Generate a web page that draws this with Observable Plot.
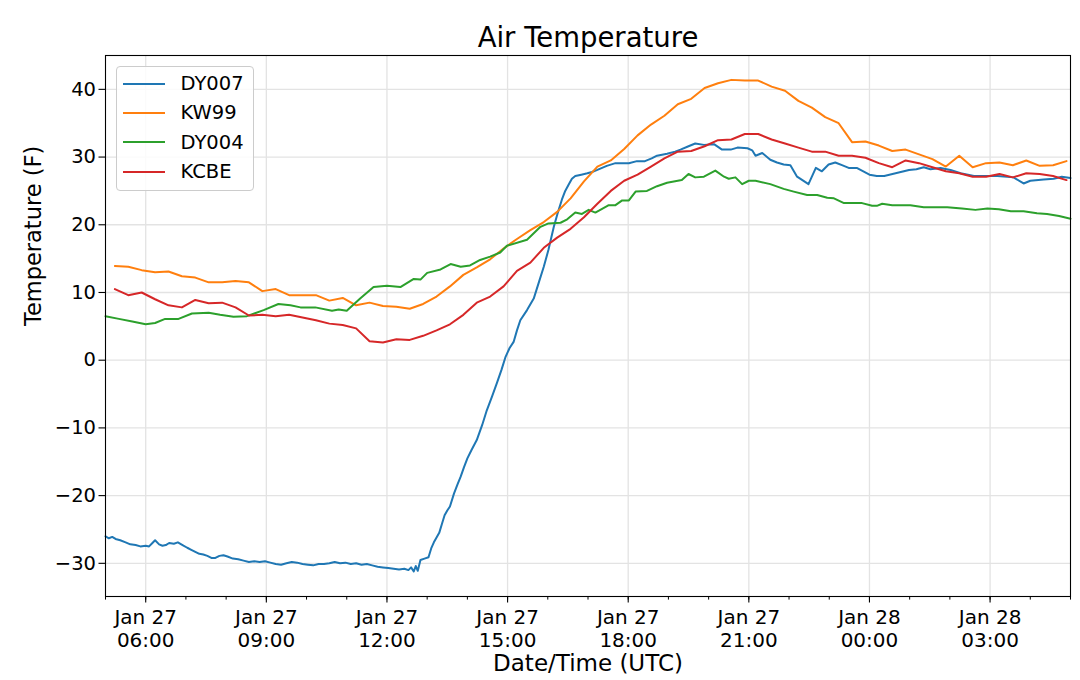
<!DOCTYPE html>
<html><head><meta charset="utf-8">
<script src="https://cdn.jsdelivr.net/npm/d3@7"></script>
<script src="https://cdn.jsdelivr.net/npm/@observablehq/plot@0.6"></script>
<style>
body{margin:0;background:#fff;font-family:"DejaVu Sans",sans-serif;}
#wrap{position:relative;width:1080px;height:680px;}
#legend{position:absolute;left:115.5px;top:66px;width:138px;box-sizing:border-box;padding:2px 0 4px 0;border:1px solid #cccccc;border-radius:4px;background:rgba(255,255,255,0.85);font-family:"DejaVu Sans",sans-serif;font-size:19.5px;color:#000;}
#legend .row{display:flex;align-items:center;height:29.3px;}
#legend .sw{width:42px;height:2px;margin-left:6px;margin-right:16px;}
</style></head><body><div id="wrap"></div>
<script>
const seriesNames = ["DY007", "KW99", "DY004", "KCBE"];
const seriesColors = ["#1f77b4", "#ff7f0e", "#2ca02c", "#d62728"];
const yTicks = [-30, -20, -10, 0, 10, 20, 30, 40];
const xTicks = ["27T06:00", "27T09:00", "27T12:00", "27T15:00", "27T18:00", "27T21:00", "28T00:00", "28T03:00"];
const xDomain = ["27T05:00", "28T05:00"];

const dy007Times = ["27T05:00","27T05:05","27T05:10","27T05:15","27T05:22","27T05:30","27T05:37","27T05:45","27T05:52","27T06:00","27T06:05","27T06:10","27T06:14","27T06:20","27T06:25","27T06:30","27T06:35","27T06:42","27T06:48","27T06:55","27T07:02","27T07:08","27T07:14","27T07:20","27T07:26","27T07:32","27T07:38","27T07:44","27T07:50","27T07:56","27T08:02","27T08:10","27T08:18","27T08:26","27T08:34","27T08:42","27T08:50","27T08:58","27T09:06","27T09:14","27T09:22","27T09:30","27T09:38","27T09:46","27T09:54","27T10:02","27T10:10","27T10:18","27T10:26","27T10:34","27T10:42","27T10:50","27T10:58","27T11:06","27T11:14","27T11:22","27T11:30","27T11:38","27T11:46","27T11:54","27T12:02","27T12:10","27T12:18","27T12:26","27T12:32","27T12:36","27T12:40","27T12:43","27T12:46","27T12:50","27T12:56","27T13:02","27T13:06","27T13:10","27T13:14","27T13:18","27T13:22","27T13:26","27T13:30","27T13:34","27T13:40","27T13:45","27T13:50","27T13:55","27T14:00","27T14:06","27T14:14","27T14:22","27T14:29","27T14:37","27T14:44","27T14:51","27T14:57","27T15:03","27T15:09","27T15:14","27T15:19","27T15:29","27T15:39","27T15:47","27T15:54","27T16:01","27T16:09","27T16:15","27T16:21","27T16:26","27T16:31","27T16:36","27T16:41","27T16:50","27T16:59","27T17:06","27T17:14","27T17:21","27T17:28","27T17:41","27T18:01","27T18:13","27T18:25","27T18:35","27T18:43","27T18:58","27T19:10","27T19:18","27T19:30","27T19:40","27T19:53","27T20:08","27T20:20","27T20:33","27T20:43","27T20:58","27T21:05","27T21:10","27T21:20","27T21:32","27T21:42","27T21:52","27T22:02","27T22:12","27T22:29","27T22:40","27T22:49","27T22:59","27T23:09","27T23:19","27T23:29","27T23:41","28T00:00","28T00:11","28T00:22","28T00:39","28T00:59","28T01:10","28T01:21","28T01:31","28T01:46","28T02:01","28T02:16","28T02:36","28T03:11","28T03:35","28T03:50","28T04:00","28T04:20","28T04:35","28T04:47","28T05:00"];
const dy007Temps = [-26.0,-26.3,-26.1,-26.4,-26.6,-26.9,-27.2,-27.3,-27.5,-27.4,-27.5,-27.0,-26.6,-27.2,-27.4,-27.3,-27.0,-27.1,-26.9,-27.3,-27.7,-28.0,-28.3,-28.6,-28.7,-28.9,-29.2,-29.2,-28.9,-28.8,-29.0,-29.3,-29.4,-29.6,-29.8,-29.7,-29.8,-29.7,-29.9,-30.1,-30.2,-30.0,-29.8,-29.9,-30.1,-30.2,-30.3,-30.1,-30.1,-30.0,-29.8,-30.0,-29.9,-30.1,-30.0,-30.2,-30.1,-30.3,-30.5,-30.6,-30.7,-30.8,-30.9,-30.8,-31.0,-30.6,-31.2,-30.4,-31.1,-29.5,-29.3,-29.1,-27.8,-26.9,-26.2,-25.5,-24.2,-22.9,-22.2,-21.6,-19.7,-18.4,-17.2,-15.8,-14.5,-13.3,-11.8,-9.6,-7.4,-5.3,-3.4,-1.4,0.5,1.8,2.7,4.4,5.9,7.4,9.1,11.6,13.8,16.3,19.7,21.8,23.7,25.0,25.9,26.8,27.2,27.4,27.6,27.8,28.1,28.4,28.7,29.1,29.1,29.4,29.4,29.8,30.2,30.5,30.8,31.1,31.6,32.0,31.8,31.9,31.1,31.1,31.4,31.3,31.0,30.2,30.6,29.6,29.2,28.9,28.8,27.1,26.0,28.4,27.9,28.9,29.2,28.8,28.4,28.4,27.4,27.2,27.2,27.6,28.1,28.2,28.5,28.2,28.4,28.1,27.6,27.2,27.2,27.0,26.1,26.5,26.7,26.8,27.1,26.9];

const dy004Times = ["27T05:00","27T05:20","27T05:40","27T06:00","27T06:14","27T06:29","27T06:49","27T07:09","27T07:34","27T07:51","27T08:11","27T08:31","27T08:56","27T09:18","27T09:36","27T09:51","27T10:13","27T10:38","27T10:48","27T11:00","27T11:20","27T11:40","27T12:00","27T12:20","27T12:40","27T12:50","27T13:00","27T13:20","27T13:35","27T13:50","27T14:04","27T14:19","27T14:34","27T14:49","27T14:59","27T15:29","27T15:49","27T16:01","27T16:19","27T16:29","27T16:41","27T16:51","27T17:01","27T17:11","27T17:31","27T17:41","27T17:51","27T18:01","27T18:11","27T18:28","27T18:43","27T18:58","27T19:20","27T19:30","27T19:40","27T19:53","27T20:10","27T20:23","27T20:30","27T20:40","27T20:50","27T21:00","27T21:10","27T21:32","27T21:52","27T22:07","27T22:27","27T22:42","27T22:57","27T23:07","27T23:22","27T23:49","28T00:04","28T00:11","28T00:19","28T00:34","28T01:01","28T01:21","28T01:56","28T02:18","28T02:38","28T02:56","28T03:13","28T03:31","28T03:50","28T04:10","28T04:25","28T04:43","28T05:00"];
const dy004Temps = [6.5,6.1,5.7,5.3,5.5,6.1,6.1,6.9,7.0,6.7,6.4,6.5,7.4,8.3,8.1,7.8,7.8,7.3,7.5,7.3,9.1,10.8,11.0,10.8,12.0,11.9,12.9,13.4,14.2,13.8,14.0,14.8,15.3,15.9,16.9,17.8,19.7,20.2,20.3,20.8,21.8,21.6,22.2,21.8,22.9,22.9,23.6,23.6,24.9,25.0,25.7,26.2,26.6,27.5,27.0,27.1,28.0,27.1,26.8,27.0,26.0,26.5,26.5,26.0,25.3,24.9,24.4,24.4,24.0,23.9,23.2,23.2,22.8,22.8,23.1,22.9,22.9,22.6,22.6,22.4,22.2,22.4,22.3,22.0,22.0,21.7,21.6,21.3,20.9];

// KW99 and KCBE report every 20 minutes starting 05:14
const awosStart = "27T05:14";
const awosStepMinutes = 20;
const kw99Temps = [13.9,13.8,13.3,13.0,13.1,12.4,12.2,11.5,11.5,11.7,11.5,10.2,10.5,9.6,9.6,9.6,8.8,9.2,8.1,8.5,8.0,7.9,7.6,8.3,9.4,10.9,12.6,13.7,14.9,16.5,17.9,19.2,20.4,21.9,23.9,26.4,28.6,29.5,31.2,33.2,34.8,36.1,37.8,38.6,40.2,40.9,41.4,41.3,41.3,40.4,39.8,38.3,37.3,35.9,35.0,32.2,32.3,31.7,30.9,31.1,30.4,29.7,28.6,30.2,28.5,29.1,29.2,28.8,29.5,28.7,28.8,29.4];
const kcbeTemps = [10.5,9.6,10.0,9.0,8.1,7.8,8.9,8.4,8.5,7.8,6.6,6.7,6.5,6.7,6.3,5.9,5.4,5.2,4.7,2.8,2.6,3.1,3.0,3.6,4.4,5.3,6.7,8.5,9.4,10.9,13.2,14.4,16.6,18.1,19.4,21.1,23.1,25.0,26.5,27.4,28.6,29.8,30.8,30.9,31.6,32.5,32.6,33.4,33.4,32.6,32.0,31.4,30.8,30.8,30.2,30.2,29.9,29.1,28.5,29.5,29.1,28.5,27.9,27.6,27.1,27.1,27.5,27.0,27.6,27.5,27.2,26.6];

const parseT = s => new Date(Date.UTC(2019, 0, +s.slice(0, 2), +s.slice(3, 5), +s.slice(6, 8)));

const rows = [];
dy007Times.forEach((t, i) => rows.push({series: "DY007", time: parseT(t), temp: dy007Temps[i]}));
kw99Temps.forEach((v, i) => rows.push({series: "KW99", time: d3.utcMinute.offset(parseT(awosStart), i * awosStepMinutes), temp: v}));
dy004Times.forEach((t, i) => rows.push({series: "DY004", time: parseT(t), temp: dy004Temps[i]}));
kcbeTemps.forEach((v, i) => rows.push({series: "KCBE", time: d3.utcMinute.offset(parseT(awosStart), i * awosStepMinutes), temp: v}));

const xMajor = xTicks.map(parseT);
const xMinor = d3.utcHour.range(parseT(xDomain[0]), d3.utcMinute.offset(parseT(xDomain[1]), 1));
const fmtX = d3.utcFormat("%b %d\n%H:%M");
const fmtY = d3.format("d");
const FONT = "DejaVu Sans";

const chart = Plot.plot({
  width: 1080, height: 680,
  marginLeft: 105, marginRight: 10, marginTop: 55, marginBottom: 84,
  style: {background: "white", color: "black", fontFamily: FONT},
  x: {type: "utc", domain: xDomain.map(parseT)},
  y: {domain: [-34.9, 45]},
  color: {domain: seriesNames, range: seriesColors},
  marks: [
    Plot.gridX({ticks: xMajor, stroke: "#e3e3e3", strokeOpacity: 1, strokeWidth: 1.3}),
    Plot.gridY({ticks: yTicks, stroke: "#e3e3e3", strokeOpacity: 1, strokeWidth: 1.3}),
    ...seriesNames.map(s => Plot.line(rows.filter(r => r.series === s), {x: "time", y: "temp", stroke: "series", strokeWidth: 2, strokeLinejoin: "round"})),
    Plot.frame({stroke: "black", strokeWidth: 1.1}),
    Plot.axisX({ticks: xMinor, tickSize: 3.6, tickFormat: () => "", strokeWidth: 1}),
    Plot.axisX({ticks: xMajor, tickSize: 6.5, tickPadding: 4, tickFormat: fmtX, fontSize: 20, lineHeight: 1.165, strokeWidth: 1.1, fill: "black"}),
    Plot.axisY({ticks: yTicks, tickSize: 6.5, tickPadding: 3, tickFormat: fmtY, fontSize: 19.5, strokeWidth: 1.1, fill: "black", label: null}),
    Plot.text(["Air Temperature"], {frameAnchor: "top", dy: -9, lineAnchor: "bottom", fontSize: 27.5, fill: "black"}),
    Plot.text(["Date/Time (UTC)"], {frameAnchor: "bottom", dy: 74, lineAnchor: "bottom", fontSize: 23, fill: "black"}),
    Plot.text(["Temperature (F)"], {frameAnchor: "left", dx: -72, rotate: -90, lineAnchor: "middle", fontSize: 22.5, fill: "black"})
  ]
});

const wrap = document.getElementById("wrap");
wrap.appendChild(chart);
const legend = document.createElement("div");
legend.id = "legend";
seriesNames.forEach((name, i) => {
  const row = document.createElement("div");
  row.className = "row";
  const sw = document.createElement("span");
  sw.className = "sw";
  sw.style.background = seriesColors[i];
  const lab = document.createElement("span");
  lab.textContent = name;
  row.appendChild(sw); row.appendChild(lab);
  legend.appendChild(row);
});
wrap.appendChild(legend);
</script>
</body></html>
